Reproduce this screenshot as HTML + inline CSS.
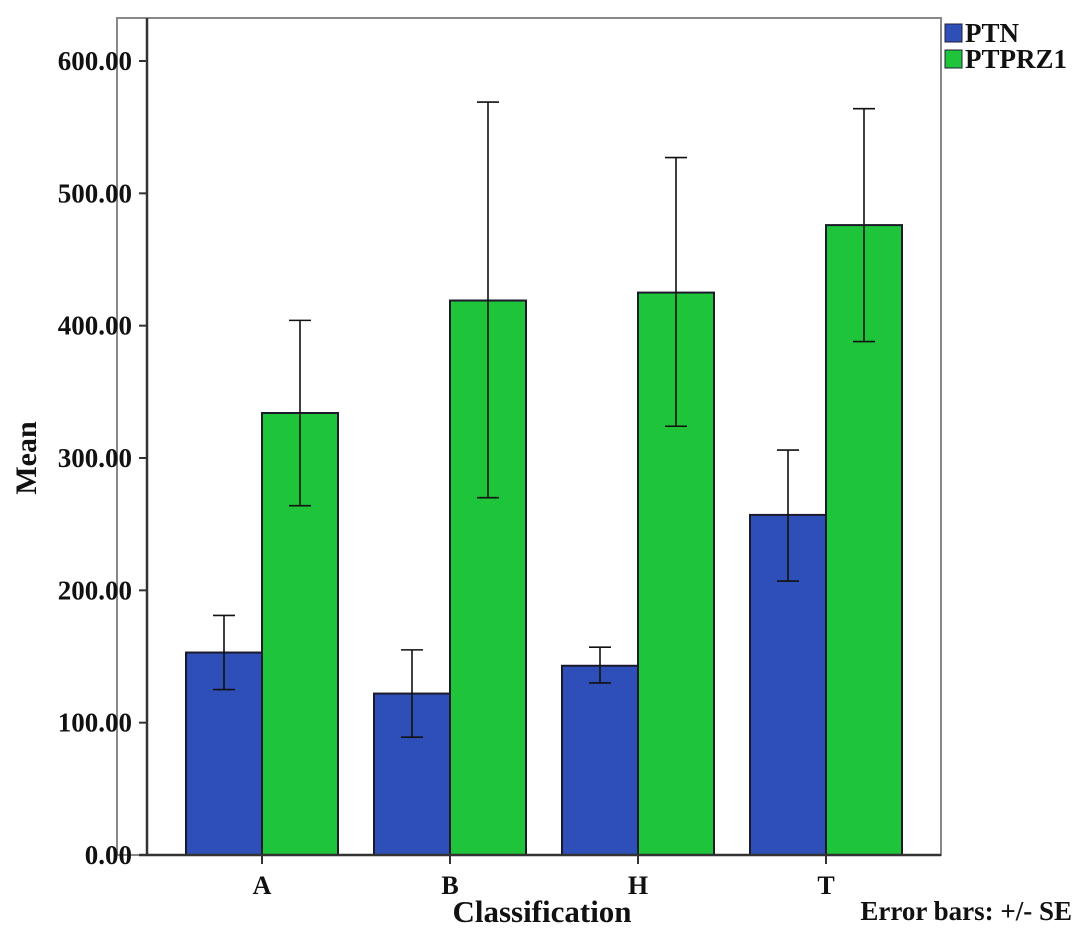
<!DOCTYPE html>
<html><head><meta charset="utf-8"><style>
html,body{margin:0;padding:0;background:#fff;}
svg text{font-family:"Liberation Serif",serif;font-weight:bold;fill:#111;}
</style></head><body>
<svg id="chart" width="1087" height="930" xmlns="http://www.w3.org/2000/svg">
<rect x="117" y="18" width="824" height="837" fill="none" stroke="#888" stroke-width="2"/>
<g id="bars"></g>
<g id="axes"></g>
<g>
<rect x="945" y="24" width="17" height="18" fill="#2f4fb8" stroke="#223"/>
<text x="965" y="42" font-size="27">PTN</text>
<rect x="945" y="50" width="17" height="18" fill="#1ec43a" stroke="#223"/>
<text x="965" y="68" font-size="27">PTPRZ1</text>
</g>
<text x="542" y="922" font-size="31" text-anchor="middle">Classification</text>
<text x="1072" y="920" font-size="27" text-anchor="end">Error bars: +/- SE</text>
<text transform="translate(36,458) rotate(-90)" font-size="30" text-anchor="middle">Mean</text>
</svg>
<script>
const categories=["A","B","H","T"];
const ptnMean=[153,122,143,257];
const ptnLow=[125,89,130,207];
const ptnHigh=[181,155,157,306];
const przMean=[334,419,425,476];
const przLow=[264,270,324,388];
const przHigh=[404,569,527,564];
const yTicks=[0,100,200,300,400,500,600];
const NS="http://www.w3.org/2000/svg";
const y0=855,pxPer=(855-61)/600;
const yS=v=>y0-v*pxPer;
const xC=i=>262+i*188;
const bw=76;
function mk(t,a,p){const e=document.createElementNS(NS,t);for(const k in a)e.setAttribute(k,a[k]);(p||document.getElementById('bars')).appendChild(e);return e;}
const ax=document.getElementById('axes');
yTicks.forEach(v=>{
 const l=mk('line',{x1:139,x2:147,y1:yS(v),y2:yS(v),stroke:'#333','stroke-width':2},ax);
 
 
 const t=mk('text',{x:132,y:yS(v)+9,'font-size':27,'text-anchor':'end'},ax);
 t.textContent=v.toFixed(2);
 
 
});
categories.forEach((c,i)=>{
 [[ptnMean,ptnLow,ptnHigh,'#2f4fb8',-bw],[przMean,przLow,przHigh,'#1ec43a',0]].forEach(([m,lo,hi,col,off],s)=>{
  const x=xC(i)+off;
  const r=mk('rect',{x:x,y:yS(m[i]),width:bw,height:y0-yS(m[i]),fill:col,stroke:'#1a1a2a','stroke-width':2});
  
  
  const cx=x+bw/2;
  const g=mk('g',{stroke:'#111','stroke-width':1.6});
  
  
  mk('line',{x1:cx,x2:cx,y1:yS(lo[i]),y2:yS(hi[i])},g);
  mk('line',{x1:cx-11,x2:cx+11,y1:yS(lo[i]),y2:yS(lo[i])},g);
  mk('line',{x1:cx-11,x2:cx+11,y1:yS(hi[i]),y2:yS(hi[i])},g);
 });
 const tk=mk('line',{x1:xC(i),x2:xC(i),y1:855,y2:864,stroke:'#333','stroke-width':2},ax);
 
 
 const t=mk('text',{x:xC(i),y:894,'font-size':26,'text-anchor':'middle'},ax);
 t.textContent=c;
 
 
});
const a1=mk('line',{x1:147,x2:147,y1:18,y2:855,stroke:'#333','stroke-width':2.5},ax);


const a2=mk('line',{x1:139,x2:941,y1:855,y2:855,stroke:'#333','stroke-width':2.5},ax);


</script>
</body></html>
